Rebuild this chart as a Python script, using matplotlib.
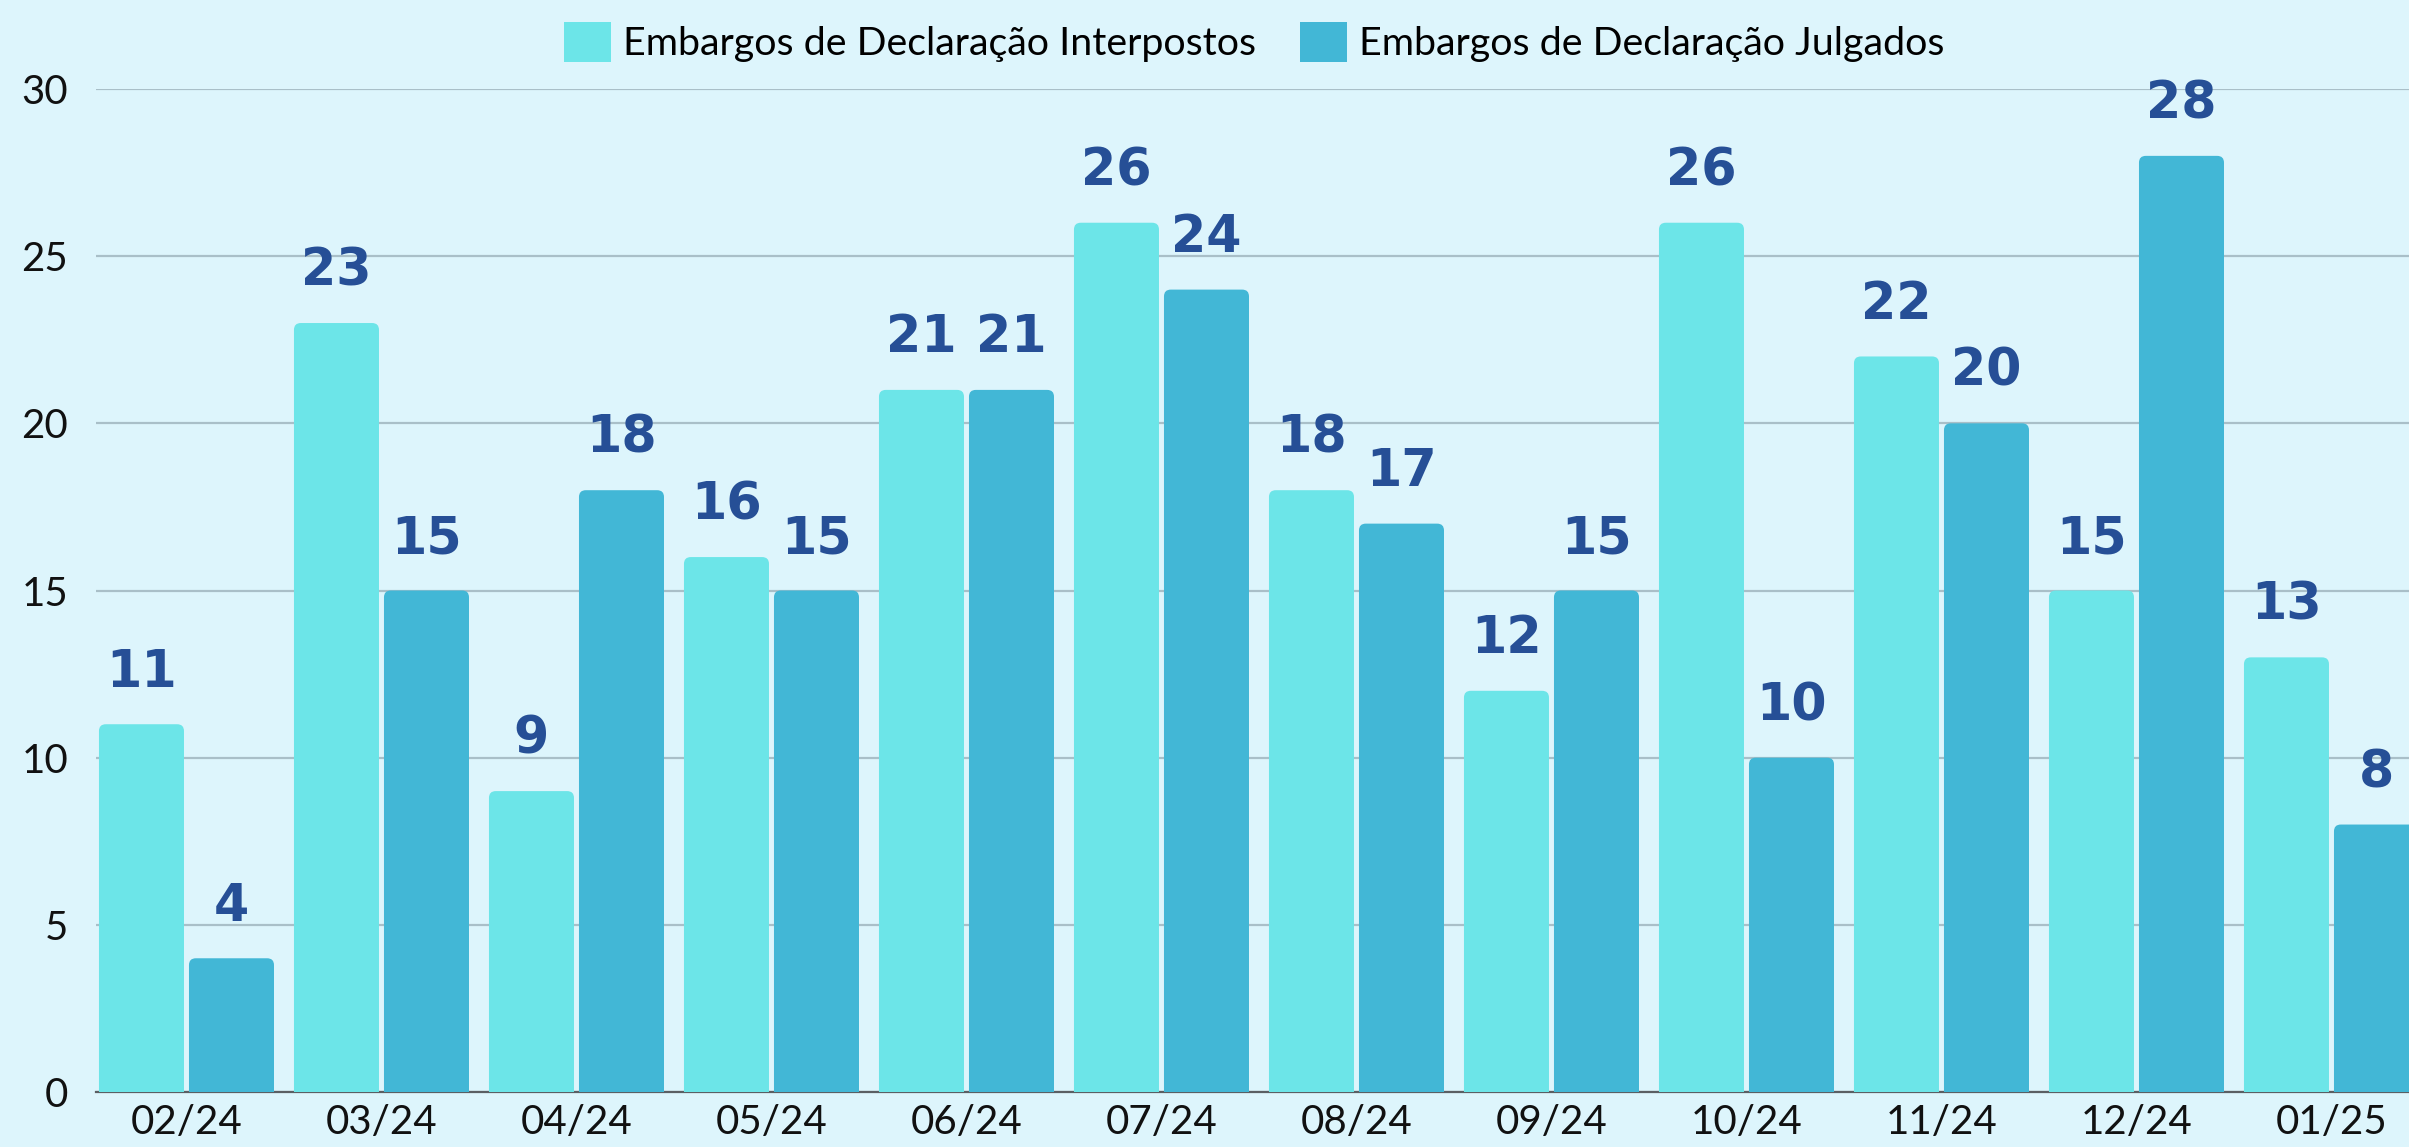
import matplotlib
matplotlib.use("Agg")
import matplotlib.pyplot as plt
from matplotlib.patches import FancyBboxPatch
import numpy as np

months = ["02/24", "03/24", "04/24", "05/24", "06/24", "07/24",
          "08/24", "09/24", "10/24", "11/24", "12/24", "01/25"]
interpostos = [11, 23, 9, 16, 21, 26, 18, 12, 26, 22, 15, 13]
julgados = [4, 15, 18, 15, 21, 24, 17, 15, 10, 20, 28, 8]
series_names = ["Embargos de Declaração Interpostos", "Embargos de Declaração Julgados"]

bg = "#ddf5fc"
c_light = "#6ce5e8"
c_dark = "#42b7d6"
label_color = "#264f96"

fig = plt.figure(figsize=(24.09, 11.47), dpi=100, facecolor=bg)
ax = fig.add_axes([96 / 2409, 55 / 1147, 1 - 96 / 2409, 1003 / 1147])
ax.set_facecolor(bg)

x = np.arange(len(months))
w = 0.436
off = 0.2308

def rounded_bars(xpos, vals, color):
    bars = ax.bar(xpos, vals, w, color=color, zorder=2)
    for b in bars:
        b.set_visible(False)
        # rounded top corners; bottom part hidden below y=0
        p = FancyBboxPatch((b.get_x(), -1), b.get_width(), b.get_height() + 1,
                           boxstyle="round,pad=0,rounding_size=0.035",
                           mutation_aspect=5.83, fc=color, ec="none", zorder=2)
        ax.add_patch(p)
    for xi, v in zip(xpos, vals):
        ax.annotate(str(v), (xi, v), xytext=(0, 27), textcoords="offset points",
                    ha="center", va="baseline", fontsize=36.5, fontweight="bold",
                    family="DejaVu Sans", color=label_color, clip_on=False, zorder=4)
    return bars

b1 = rounded_bars(x - off, interpostos, c_light)
b2 = rounded_bars(x + off, julgados, c_dark)

ax.set_xlim(-0.464, -0.464 + 2313 / 195)
ax.set_ylim(0, 30)
ax.set_yticks([0, 5, 10, 15, 20, 25, 30])
ax.set_xticks(x)
ax.set_xticklabels(months)
ax.grid(axis="y", color="#a9bfc8", linewidth=1.6, zorder=0)
ax.set_axisbelow(True)
for s in ["top", "right", "left"]:
    ax.spines[s].set_visible(False)
ax.spines["bottom"].set_color("#5a5f63")
ax.spines["bottom"].set_linewidth(1.6)
ax.spines["bottom"].set_zorder(1)
ax.tick_params(axis="both", length=0, labelsize=29, labelcolor="#111111")
ax.tick_params(axis="x", pad=9)
ax.tick_params(axis="y", pad=20)
for t in ax.get_xticklabels() + ax.get_yticklabels():
    t.set_family("Lato")

handles = [plt.Rectangle((0, 0), 1, 1, fc=c_light), plt.Rectangle((0, 0), 1, 1, fc=c_dark)]
leg = fig.legend(handles, series_names, loc="center", bbox_to_anchor=(1254 / 2409, 1 - 42 / 1147),
                 ncol=2, frameon=False, prop={"family": "Lato", "size": 28.4},
                 handlelength=1.2, handleheight=1.22, handletextpad=0.3, columnspacing=1.1,
                 borderpad=0)

fig.savefig("out.png", dpi=100, facecolor=bg)
